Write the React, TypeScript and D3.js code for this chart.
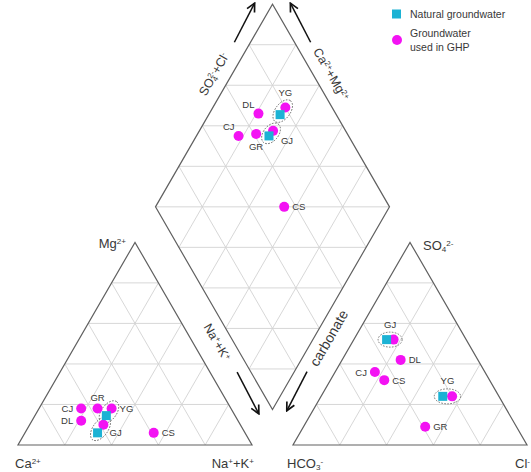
import React, { useEffect, useRef } from 'react';
import * as d3 from 'd3';

// sample names (same order for every array below)
const ghpSamples = ['CJ', 'GR', 'YG', 'DL', 'GJ', 'CS'];
// groundwater used in GHP, cations (meq %)
const ghpCa = [64, 57, 51, 67, 58.5, 39];
const ghpMg = [18, 18, 18, 12, 10, 6];
const ghpNaK = [18, 25, 31, 21, 31.5, 55];
// groundwater used in GHP, anions (meq %)
const ghpHCO3 = [47, 39, 20, 33, 31, 45];
const ghpSO4 = [36, 9, 24, 42, 52, 32];
const ghpCl = [17, 52, 56, 25, 17, 23];

// natural groundwater
const natSamples = ['YG', 'GJ'];
const natCa = [55, 63];
const natMg = [14.5, 6];
const natNaK = [30.5, 31];
const natHCO3 = [24, 34];
const natSO4 = [24, 52];
const natCl = [52, 14];

const legendLabels = ['Natural groundwater', 'Groundwater', 'used in GHP'];

const WIDTH = 531;
const HEIGHT = 472;
const CYAN = '#1cb2d4';
const MAGENTA = '#f312f3';
const TEXT = '#383838';
const FONT = '"Liberation Sans", Arial, Helvetica, sans-serif';

// where each sample label sits: [which point, direction]
const labelPlace = {
    cation: { CJ: ['ghp', 'l'], GR: ['ghp', 't'], YG: ['ghp', 'r'], DL: ['ghp', 'l'], GJ: ['nat', 'rr'], CS: ['ghp', 'r'] },
    anion: { CJ: ['ghp', 'l'], GR: ['ghp', 'r'], YG: ['mid', 'tt'], DL: ['ghp', 'r'], GJ: ['mid', 'tt'], CS: ['ghp', 'r'] },
    diamond: { CJ: ['ghp', 'tl'], GR: ['ghp', 'b'], YG: ['ghp', 'tt'], DL: ['ghp', 'tl'], GJ: ['nat', 'br'], CS: ['ghp', 'r'] },
};
const dirOffset = {
    r: [8, 3.5, 'start'], l: [-8, 3.5, 'end'], t: [0, -8, 'middle'], tt: [0, -12, 'middle'],
    b: [0, 16, 'middle'], tl: [-4, -6, 'end'], rr: [12, 3.5, 'start'], br: [12, 8, 'start'],
};

function PiperChart() {
    const svgRef = useRef(null);

    useEffect(() => {
        const svg = d3.select(svgRef.current);
        svg.selectAll('*').remove();

        const L = 234;
        const gap = 41;
        const x0 = 18;
        const baseY = 445;
        const s3 = Math.sqrt(3) / 2;

        const fx = d3.scaleLinear().domain([0, 100]).range([0, L]);
        const fh = d3.scaleLinear().domain([0, 100]).range([0, L * s3]);

        const xr = x0 + L + gap;
        const xb = x0 + L + gap / 2;
        const yb = baseY - gap * s3;

        const cation = (ca, mg, na) => [x0 + fx(na) + fx(mg) / 2, baseY - fh(mg)];
        const anion = (h, s, c) => [xr + fx(c) + fx(s) / 2, baseY - fh(s)];
        const diamond = (na, sc) => [xb + (fx(sc) + fx(na) - L) / 2, yb - fh(sc + 100 - na)];

        // corners
        const cA = [x0, baseY], cB = [x0 + L, baseY], cC = [x0 + L / 2, baseY - fh(100)];
        const aA = [xr, baseY], aB = [xr + L, baseY], aC = [xr + L / 2, baseY - fh(100)];
        const dB = [xb, yb], dL = [xb - L / 2, yb - fh(100)], dR = [xb + L / 2, yb - fh(100)], dT = [xb, yb - 2 * fh(100)];

        const lerp = (p, q, t) => [p[0] + (q[0] - p[0]) * t, p[1] + (q[1] - p[1]) * t];
        const steps = [0.2, 0.4, 0.6, 0.8];

        const gridSegs = [];
        [[cA, cB, cC], [aA, aB, aC]].forEach(([A, B, C]) => {
            steps.forEach(t => {
                gridSegs.push([lerp(A, C, t), lerp(B, C, t)]);
                gridSegs.push([lerp(A, B, t), lerp(C, B, t)]);
                gridSegs.push([lerp(B, A, t), lerp(C, A, t)]);
            });
        });
        steps.forEach(t => {
            gridSegs.push([lerp(dB, dL, t), lerp(dR, dT, t)]);
            gridSegs.push([lerp(dB, dR, t), lerp(dL, dT, t)]);
        });
        d3.range(1, 10).forEach(k => {
            const y = yb - (2 * fh(100) * k) / 10;
            const half = k <= 5 ? (yb - y) / Math.sqrt(3) : (y - dT[1]) / Math.sqrt(3);
            gridSegs.push([[xb - half, y], [xb + half, y]]);
        });

        const line = d3.line();
        svg.append('g')
            .selectAll('path')
            .data(gridSegs)
            .enter()
            .append('path')
            .attr('d', d => line(d))
            .attr('stroke', '#d2d2d2')
            .attr('stroke-width', 0.9)
            .attr('fill', 'none');

        // outlines
        svg.append('g')
            .selectAll('path')
            .data([[cA, cB, cC], [aA, aB, aC], [dB, dR, dT, dL]])
            .enter()
            .append('path')
            .attr('d', d => line(d) + 'Z')
            .attr('stroke', '#606060')
            .attr('stroke-width', 1.2)
            .attr('fill', 'none');

        // points per panel
        const panels = {
            cation: {
                ghp: ghpSamples.map((n, i) => cation(ghpCa[i], ghpMg[i], ghpNaK[i])),
                nat: natSamples.map((n, i) => cation(natCa[i], natMg[i], natNaK[i])),
            },
            anion: {
                ghp: ghpSamples.map((n, i) => anion(ghpHCO3[i], ghpSO4[i], ghpCl[i])),
                nat: natSamples.map((n, i) => anion(natHCO3[i], natSO4[i], natCl[i])),
            },
            diamond: {
                ghp: ghpSamples.map((n, i) => diamond(ghpNaK[i], ghpSO4[i] + ghpCl[i])),
                nat: natSamples.map((n, i) => diamond(natNaK[i], natSO4[i] + natCl[i])),
            },
        };

        Object.keys(panels).forEach(key => {
            const p = panels[key];
            const g = svg.append('g');

            // dashed rings around the pairs
            natSamples.forEach((name, i) => {
                const a = p.nat[i];
                const b = p.ghp[ghpSamples.indexOf(name)];
                const cx = (a[0] + b[0]) / 2, cy = (a[1] + b[1]) / 2;
                const dist = Math.hypot(b[0] - a[0], b[1] - a[1]);
                const ang = Math.atan2(b[1] - a[1], b[0] - a[0]) * 180 / Math.PI;
                g.append('ellipse')
                    .attr('cx', 0).attr('cy', 0)
                    .attr('rx', dist / 2 + 8.5)
                    .attr('ry', 7.5)
                    .attr('transform', `translate(${cx},${cy}) rotate(${ang})`)
                    .attr('fill', 'none')
                    .attr('stroke', '#555')
                    .attr('stroke-width', 0.8)
                    .attr('stroke-dasharray', '1.6,1.4');
            });

            g.selectAll('circle')
                .data(p.ghp)
                .enter()
                .append('circle')
                .attr('cx', d => d[0])
                .attr('cy', d => d[1])
                .attr('r', 5)
                .attr('fill', MAGENTA);

            g.selectAll('rect')
                .data(p.nat)
                .enter()
                .append('rect')
                .attr('x', d => d[0] - 4.5)
                .attr('y', d => d[1] - 4.5)
                .attr('width', 9)
                .attr('height', 9)
                .attr('fill', CYAN);

            // sample labels
            ghpSamples.forEach((name, i) => {
                const [src, dir] = labelPlace[key][name];
                let pt = p.ghp[i];
                const ni = natSamples.indexOf(name);
                if (src === 'nat') pt = p.nat[ni];
                if (src === 'mid') pt = [(p.nat[ni][0] + p.ghp[i][0]) / 2, (p.nat[ni][1] + p.ghp[i][1]) / 2];
                const [dx, dy, anchor] = dirOffset[dir];
                g.append('text')
                    .attr('x', pt[0] + dx)
                    .attr('y', pt[1] + dy)
                    .attr('text-anchor', anchor)
                    .attr('font-size', 9.5)
                    .attr('font-family', FONT)
                    .attr('fill', TEXT)
                    .text(name);
            });
        });

        // helper for rich text (sub / superscripts)
        const rich = (sel, parts, size) => {
            parts.forEach(([txt, kind, dx]) => {
                const t = sel.append('tspan').text(txt);
                if (kind === 'sup') t.attr('font-size', size * 0.62).attr('baseline-shift', '45%');
                if (kind === 'sub') t.attr('font-size', size * 0.62).attr('baseline-shift', '-25%');
                if (dx) t.attr('dx', dx);
            });
            return sel;
        };

        // x, y is the centre of the text line (rotation about that point)
        const label = (x, y, parts, size, anchor, rot) => {
            const t = svg.append('text')
                .attr('transform', `translate(${x},${y}) rotate(${rot || 0})`)
                .attr('y', size * 0.36)
                .attr('text-anchor', anchor)
                .attr('font-size', size)
                .attr('font-family', FONT)
                .attr('fill', TEXT);
            return rich(t, parts, size);
        };

        // corner labels
        label(cA[0] - 3, baseY + 18, [['Ca'], ['2+', 'sup']], 13, 'start');
        label(cB[0] + 2, baseY + 18, [['Na'], ['+', 'sup'], ['+K'], ['+', 'sup']], 13, 'end');
        label(aA[0] - 6, baseY + 18, [['HCO'], ['3', 'sub'], ['-', 'sup']], 13, 'start');
        label(aB[0] + 3, baseY + 18, [['Cl'], ['-', 'sup']], 13, 'end');
        label(cC[0] - 9, cC[1] + 1, [['Mg'], ['2+', 'sup']], 13, 'end');
        label(aC[0] + 13, aC[1] + 3, [['SO'], ['4', 'sub'], ['2-', 'sup']], 13, 'start');

        // side arrows and labels of the diamond
        const defs = svg.append('defs');
        defs.append('marker')
            .attr('id', 'arrowhead')
            .attr('viewBox', '0 0 10 10')
            .attr('refX', 9)
            .attr('refY', 5)
            .attr('markerWidth', 7)
            .attr('markerHeight', 7)
            .attr('orient', 'auto')
            .append('path')
            .attr('d', 'M1,1 L9,5 L1,9')
            .attr('fill', 'none')
            .attr('stroke', '#111')
            .attr('stroke-width', 1.6);

        const sides = [
            { from: dL, to: dT, n: [-s3, -0.5], tip: 8, tail: 52, txt: 90, off: 16, rot: -60, parts: [['SO'], ['4', 'sub'], ['2-', 'sup', -4], ['+Cl'], ['-', 'sup']] },
            { from: dR, to: dT, n: [s3, -0.5], tip: 8, tail: 52, txt: 90, off: 16, rot: 60, parts: [['Ca'], ['2+', 'sup'], ['+Mg'], ['2+', 'sup']] },
            { from: dL, to: dB, n: [-s3, 0.5], tip: 3, tail: 50, txt: 86, off: 14, rot: 60, parts: [['Na'], ['+', 'sup'], ['+K'], ['+', 'sup']] },
            { from: dR, to: dB, n: [s3, 0.5], tip: 6, tail: 50, txt: 90, off: 13, rot: -60, parts: [['carbonate']], big: true },
        ];
        sides.forEach(s => {
            const u = [(s.to[0] - s.from[0]) / L, (s.to[1] - s.from[1]) / L];
            const at = (back, off) => [s.to[0] - u[0] * back + s.n[0] * off, s.to[1] - u[1] * back + s.n[1] * off];
            const a = at(s.tail, s.off - 2);
            const b = at(s.tip, s.off);
            svg.append('line')
                .attr('x1', a[0]).attr('y1', a[1])
                .attr('x2', b[0]).attr('y2', b[1])
                .attr('stroke', '#111')
                .attr('stroke-width', 1.5)
                .attr('marker-end', 'url(#arrowhead)');
            const c = at(s.txt, s.off);
            label(c[0], c[1], s.parts, s.big ? 14 : 12.5, 'middle', s.rot);
        });

        // legend
        const lg = svg.append('g');
        lg.append('rect').attr('x', 392).attr('y', 9.5).attr('width', 9).attr('height', 9).attr('fill', CYAN);
        lg.append('circle').attr('cx', 397).attr('cy', 40).attr('r', 5).attr('fill', MAGENTA);
        lg.selectAll('text')
            .data(legendLabels)
            .enter()
            .append('text')
            .attr('x', 410)
            .attr('y', (d, i) => [18, 37, 51][i])
            .attr('font-size', 10.5)
            .attr('font-family', FONT)
            .attr('fill', TEXT)
            .text(d => d);
    }, []);

    return <svg ref={svgRef} width={WIDTH} height={HEIGHT} style={{ display: 'block' }}></svg>;
}

export default function App() {
    return (
        <div style={{ position: 'absolute', left: 0, top: 0, width: WIDTH, height: HEIGHT, background: '#fff' }}>
            <PiperChart />
        </div>
    );
}
